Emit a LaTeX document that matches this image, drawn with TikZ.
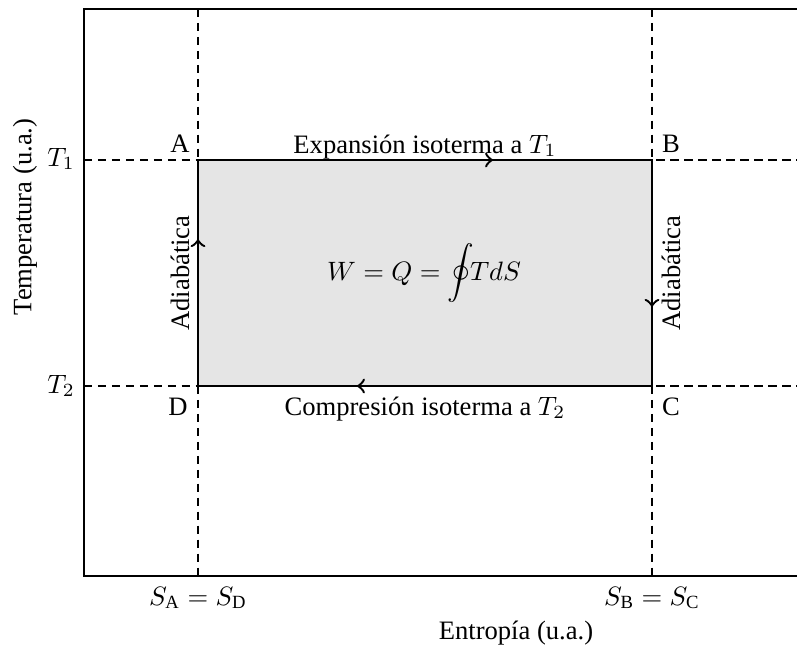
\documentclass[tikz,border=0pt]{standalone}
\usepackage{fontspec}
\setmainfont{Liberation Serif}
\usepackage{amsmath}
\usetikzlibrary{calc,decorations.markings}

\begin{document}
\begin{tikzpicture}[x=0.376pt, y=-0.376pt, thick]
  % unidades en pixeles de la figura: 797 x 649
  \useasboundingbox (0,0) rectangle (797,649);
  \tikzset{
    guia/.style={line width=0.42pt, dash pattern=on 3.15pt off 2.1pt},
    ciclo/.style={line width=0.75pt},
    flecha/.style={line width=0.75pt, postaction={decorate},
      decoration={markings, mark=at position 0.65 with {\arrow[scale=1.2]{>}}}},
    rotulo/.style={anchor=base, inner sep=0pt}
  }
  % vertices del ciclo de Carnot en el plano T-S
  \coordinate (A) at (198,160);
  \coordinate (B) at (652,160);
  \coordinate (C) at (652,386);
  \coordinate (D) at (198,386);
  % ejes
  \coordinate (O) at (84,576);
  \coordinate (Otop) at (84,9);
  \draw[line width=0.53pt] (797,9) -- (Otop) -- (O) -- (797,576);
  % lineas guia
  \draw[guia] (Otop -| A) -- (O -| A);
  \draw[guia] (Otop -| B) -- (O -| B);
  \draw[guia] (O |- A) -- (797,160);
  \draw[guia] (O |- D) -- (797,386);
  % area encerrada
  \fill[gray!20] (A) rectangle (C);
  \draw[ciclo] (A) -- (B) -- (C) -- (D) -- cycle;
  \draw[flecha] (A) -- (B);
  \draw[flecha] (B) -- (C);
  \draw[flecha] (C) -- (D);
  \draw[flecha] (D) -- (A);
  % etiquetas
  \node[rotulo] (lA) at (180,152) {A};
  \node[rotulo] (lB) at (671,152) {B};
  \node[rotulo] (lC) at (671,415) {C};
  \node[rotulo] (lD) at (178,415) {D};
  \node[rotulo] (T1) at (61,166) {$T_1$};
  \node[rotulo] (T2) at (61,393) {$T_2$};
  \node[rotulo] (SA) at (198,605) {$S_\mathrm{A}=S_\mathrm{D}$};
  \node[rotulo] (SB) at (652,605) {$S_\mathrm{B}=S_\mathrm{C}$};
  \node[rotulo] (xlab) at (516,639) {Entropía (u.a.)};
  \node[rotate=90] (ylab) at (25,217) {Temperatura (u.a.)};
  \node[rotulo] (exp) at ($(A)!0.5!(B) + (0,-7)$) {Expansión isoterma a $T_1$};
  \node[rotulo] (comp) at ($(D)!0.5!(C) + (0,29)$) {Compresión isoterma a $T_2$};
  \node[rotate=90] (ad1) at ($(D)!0.5!(A) + (-18,0)$) {Adiabática};
  \node[rotate=90] (ad2) at ($(C)!0.5!(B) + (19,0)$) {Adiabática};
  \node[rotulo] (W) at (424,280) {$W=Q=\displaystyle\oint\!\!T dS$};
\end{tikzpicture}
\end{document}
